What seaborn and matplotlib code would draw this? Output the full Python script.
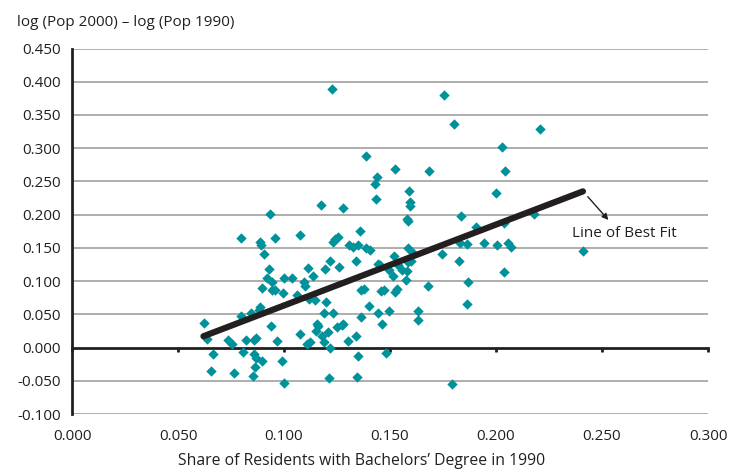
import numpy as np
import pandas as pd
import seaborn as sns
import matplotlib.pyplot as plt

# data
share_bach = [
    0.1225, 0.1388, 0.1522, 0.1683, 0.1440, 0.1429, 0.1590, 0.1433, 0.1596, 0.1594,
    0.1173, 0.1277, 0.0932, 0.1580, 0.1755, 0.1802, 0.2206, 0.2030, 0.2044, 0.2000,
    0.1835, 0.2180, 0.0799, 0.0887, 0.0890, 0.0958, 0.1077, 0.0906, 0.1242, 0.1233,
    0.1253, 0.1360, 0.1307, 0.1327, 0.1347, 0.1385, 0.1406, 0.1340, 0.1442, 0.1217,
    0.1258, 0.1192, 0.1113, 0.1137, 0.0931, 0.0918, 0.0942, 0.1001, 0.1040, 0.1093,
    0.1097, 0.0895, 0.0943, 0.0959, 0.0994, 0.1061, 0.1116, 0.1148, 0.1200, 0.1362,
    0.1377, 0.1456, 0.1473, 0.1400, 0.1495, 0.0888, 0.0884, 0.0844, 0.0799, 0.1187,
    0.1230, 0.1362, 0.1442, 0.1587, 0.2409, 0.1904, 0.2038, 0.1830, 0.1865, 0.1945,
    0.2006, 0.2058, 0.2069, 0.1825, 0.1745, 0.1585, 0.1610, 0.1519, 0.1453, 0.1495,
    0.1539, 0.1558, 0.1587, 0.1600, 0.1579, 0.1516, 0.1574, 0.2038, 0.1678, 0.1866,
    0.1535, 0.1524, 0.1862, 0.1634, 0.1630, 0.1460, 0.1480, 0.1791, 0.0623, 0.0638,
    0.0667, 0.0654, 0.0766, 0.0737, 0.0753, 0.0939, 0.0808, 0.0821, 0.0868, 0.0858,
    0.0860, 0.0866, 0.0895, 0.0863, 0.0855, 0.0965, 0.0989, 0.1000, 0.1075, 0.1107,
    0.1123, 0.1154, 0.1162, 0.1150, 0.1178, 0.1189, 0.1209, 0.1219, 0.1248, 0.1272,
    0.1280, 0.1214, 0.1303, 0.1340, 0.1351, 0.1342,
]
pop_growth = [
    0.389, 0.288, 0.268, 0.265, 0.256, 0.246, 0.235, 0.224, 0.219, 0.213,
    0.215, 0.210, 0.201, 0.194, 0.380, 0.336, 0.329, 0.302, 0.266, 0.233,
    0.198, 0.201, 0.165, 0.159, 0.155, 0.165, 0.169, 0.141, 0.163, 0.159,
    0.166, 0.176, 0.155, 0.152, 0.154, 0.150, 0.147, 0.130, 0.126, 0.130,
    0.121, 0.118, 0.120, 0.108, 0.118, 0.105, 0.098, 0.105, 0.104, 0.098,
    0.093, 0.089, 0.087, 0.086, 0.082, 0.079, 0.073, 0.071, 0.069, 0.087,
    0.088, 0.085, 0.087, 0.063, 0.055, 0.061, 0.057, 0.052, 0.048, 0.052,
    0.052, 0.046, 0.052, 0.191, 0.145, 0.181, 0.188, 0.158, 0.156, 0.158,
    0.154, 0.157, 0.151, 0.130, 0.141, 0.150, 0.143, 0.138, 0.124, 0.117,
    0.124, 0.116, 0.129, 0.130, 0.115, 0.107, 0.102, 0.113, 0.093, 0.098,
    0.088, 0.083, 0.066, 0.055, 0.041, 0.035, -0.008, -0.055, 0.037, 0.013,
    -0.010, -0.035, -0.038, 0.011, 0.006, 0.033, -0.006, 0.012, 0.015, 0.011,
    -0.010, -0.015, -0.020, -0.030, -0.043, 0.010, -0.020, -0.053, 0.020, 0.006,
    0.008, 0.036, 0.032, 0.025, 0.018, 0.009, 0.024, 0.000, 0.031, 0.034,
    0.036, -0.046, 0.010, 0.018, -0.013, -0.045,
]

# end points of the line of best fit
fit_x = [0.062, 0.241]
fit_y = [0.017, 0.235]

x_ticks = [0.0, 0.05, 0.10, 0.15, 0.20, 0.25, 0.30]
y_ticks = [-0.10, -0.05, 0.0, 0.05, 0.10, 0.15, 0.20, 0.25, 0.30, 0.35, 0.40, 0.45]

df = pd.DataFrame({'bach': share_bach, 'growth': pop_growth})

sns.set_style('white')
plt.rcParams['font.family'] = ['Open Sans', 'DejaVu Sans']

ink = '#231F20'
teal = '#00929B'

fig = plt.figure(figsize=(7.37, 4.71), dpi=100)
ax = fig.add_axes([72 / 737, 1 - 414 / 471, 636 / 737, 365.5 / 471])

# horizontal gridlines
for yv in y_ticks:
    if yv != 0:
        ax.axhline(yv, color='#A7A7A7', lw=1.3, zorder=0)

sns.scatterplot(data=df, x='bach', y='growth', marker='D', s=28,
                color=teal, edgecolor=teal, linewidth=0, ax=ax, zorder=3)
sns.lineplot(x=fit_x, y=fit_y, color=ink, lw=4.5, ax=ax, zorder=4,
             solid_capstyle='round')

ax.set_xlim(0, 0.30)
ax.set_ylim(-0.10, 0.45)
ax.set_xticks(x_ticks)
ax.set_xticklabels([f'{v:.3f}' for v in x_ticks])
ax.set_yticks(y_ticks)
ax.set_yticklabels([f'{v:.3f}' for v in y_ticks])
ax.set_xlabel('')
ax.set_ylabel('')

for side in ['top', 'right', 'bottom']:
    ax.spines[side].set_visible(False)
ax.spines['left'].set_color(ink)
ax.spines['left'].set_linewidth(2)

ax.tick_params(axis='y', direction='out', length=4, width=2, color=ink,
               labelsize=11, labelcolor=ink, pad=4)
ax.tick_params(axis='x', length=0, labelsize=11, labelcolor=ink, pad=11)

# the zero line carries the x tick marks
zero_axis = ax.secondary_xaxis(0, transform=ax.transData)
zero_axis.set_xticks(x_ticks)
zero_axis.tick_params(axis='x', direction='out', length=3, width=2,
                      color=ink, labelbottom=False)
zero_axis.spines['bottom'].set_color(ink)
zero_axis.spines['bottom'].set_linewidth(2)

# annotation
ax.annotate('', xy=(0.2530, 0.192), xytext=(0.2433, 0.227),
            arrowprops=dict(arrowstyle='-|>', color=ink, lw=1,
                            mutation_scale=9, shrinkA=0, shrinkB=0))
ax.text(0.2604, 0.171, 'Line of Best Fit', ha='center', va='center',
        fontsize=11, color=ink)

fig.text(17 / 737, 1 - 23 / 471, 'log (Pop 2000) – log (Pop 1990)',
         ha='left', va='center', fontsize=11, color=ink)
fig.text(362 / 737, 1 - 461 / 471,
         'Share of Residents with Bachelors’ Degree in 1990',
         ha='center', va='center', fontsize=11.3, color=ink)

fig.savefig('out.png', dpi=100)
